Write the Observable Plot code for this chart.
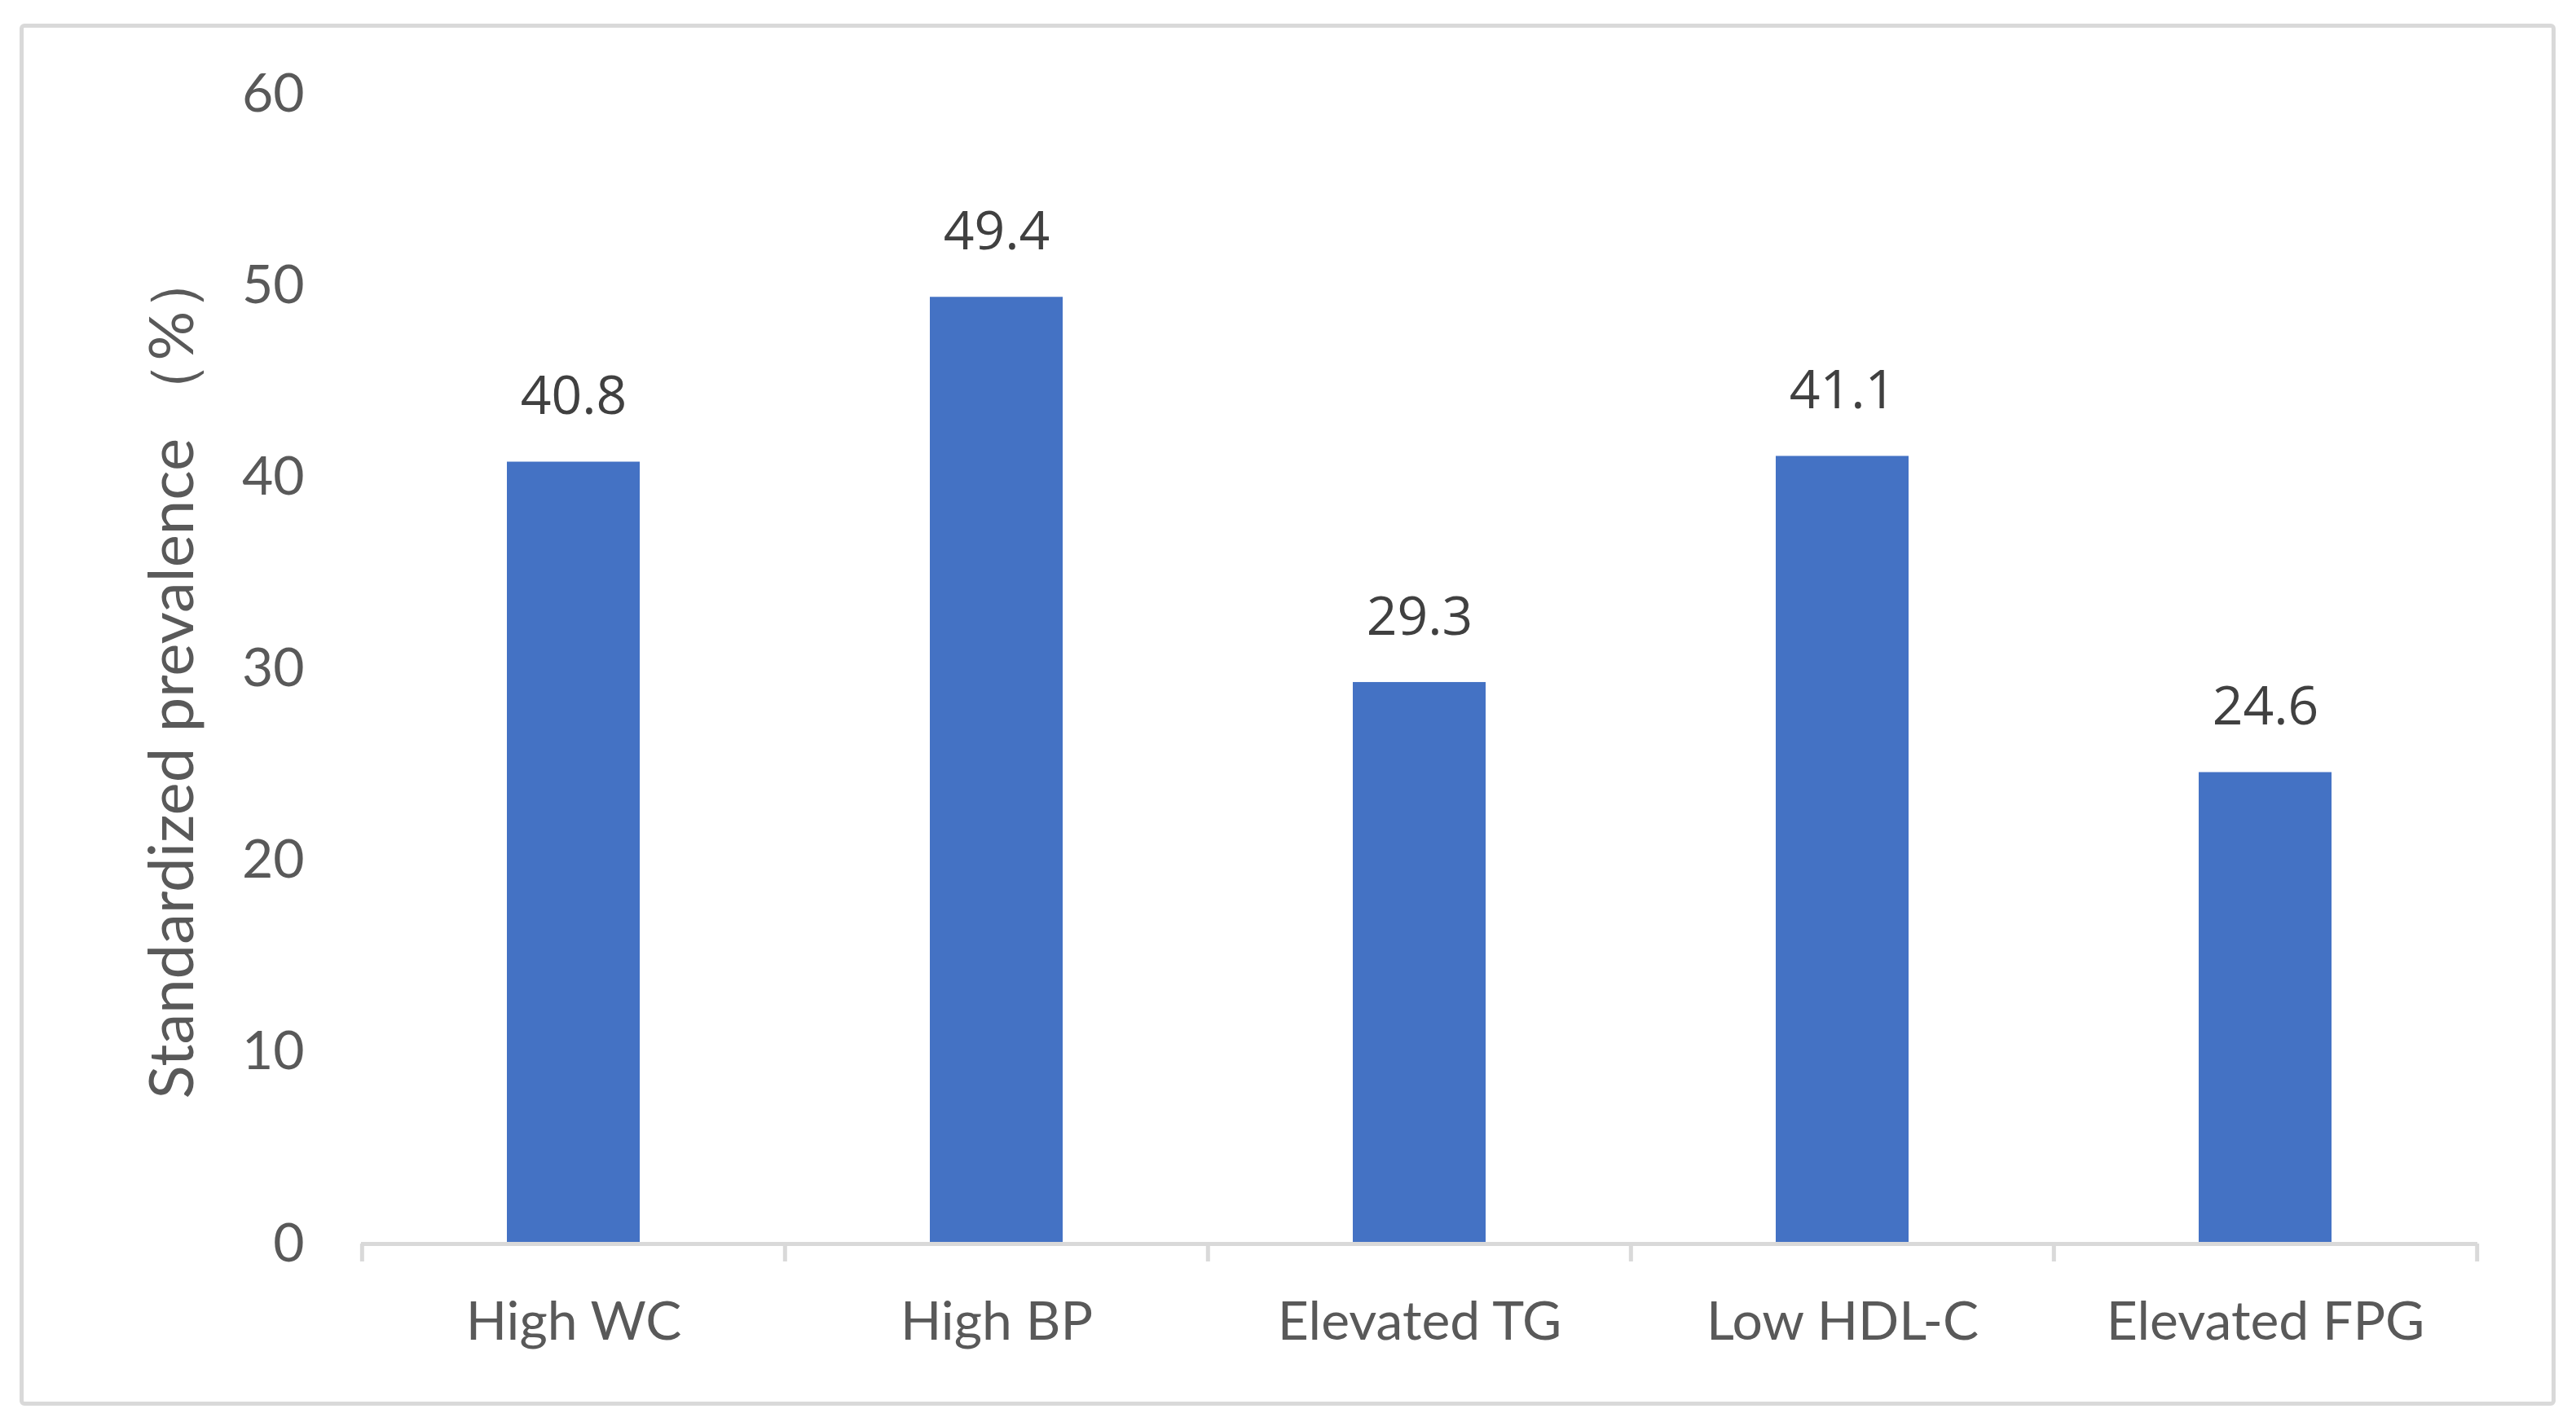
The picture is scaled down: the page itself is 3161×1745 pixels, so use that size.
<!DOCTYPE html>
<html>
<head>
<meta charset="utf-8">
<script src="https://cdn.jsdelivr.net/npm/d3@7"></script>
<script src="https://cdn.jsdelivr.net/npm/@observablehq/plot@0.6"></script>
<style>
  html, body { margin: 0; padding: 0; background: #fff; }
  #wrap { position: relative; width: 3161px; height: 1745px; }
  #frame { position: absolute; left: 24px; top: 29px; width: 3112px; height: 1696px;
           border: 5px solid #d9d9d9; border-radius: 6px; box-sizing: border-box; pointer-events: none; }
  #chart { position: absolute; left: 0; top: 0; }
</style>
</head>
<body>
<div id="wrap"><div id="chart"></div><div id="frame"></div></div>
<script>
const categories = ["High WC", "High BP", "Elevated TG", "Low HDL-C", "Elevated FPG"];
const values = [40.8, 49.4, 29.3, 41.1, 24.6];
const yTicks = [0, 10, 20, 30, 40, 50, 60];
const yLabel = "Standardized prevalence （%）";

const data = categories.map((c, i) => ({category: c, value: values[i]}));

const W = 3161, H = 1745;
const mL = 443, mR = 121, mT = 115, mB = 219;
const halfBand = (W - mL - mR) / categories.length / 2;

const axisFont = "Lato, 'Noto Sans', sans-serif";
const valueFont = "'Open Sans', 'Noto Sans', sans-serif";

const chart = Plot.plot({
  width: W,
  height: H,
  marginLeft: mL,
  marginRight: mR,
  marginTop: mT,
  marginBottom: mB,
  style: {background: "transparent", overflow: "visible"},
  x: {domain: categories, paddingInner: 0.686, paddingOuter: 0.343, label: null},
  y: {domain: [0, 60], label: null},
  marks: [
    Plot.barY(data, {x: "category", y: "value", fill: "#4472C4"}),
    Plot.ruleY([0], {stroke: "#d9d9d9", strokeWidth: 5}),
    Plot.ruleX(categories, {x: d => d, y1: 0, y2: 0, dx: -halfBand, insetBottom: -22, stroke: "#d9d9d9", strokeWidth: 5}),
    Plot.ruleX(categories.slice(-1), {x: d => d, y1: 0, y2: 0, dx: halfBand, insetBottom: -22, stroke: "#d9d9d9", strokeWidth: 5}),
    Plot.text(data, {x: "category", y: "value", text: d => d.value.toFixed(1), dy: -80,
      fill: "#404040", fontSize: 66, fontFamily: valueFont}),
    Plot.axisY({ticks: yTicks, tickSize: 0, tickPadding: 70, fontSize: 66, fontFamily: axisFont,
      color: "#595959", label: null}),
    Plot.axisX({tickSize: 0, tickPadding: 71, fontSize: 66, fontFamily: axisFont, color: "#595959", label: null}),
    Plot.text([yLabel], {text: d => d, frameAnchor: "left", rotate: -90, dx: -231, dy: 6,
      fontSize: 76, fontFamily: axisFont, fill: "#595959", textAnchor: "middle"})
  ]
});
document.getElementById("chart").appendChild(chart);
</script>
</body>
</html>
